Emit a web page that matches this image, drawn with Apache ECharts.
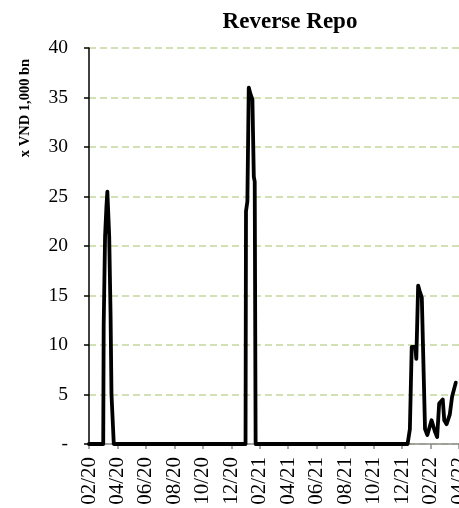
<!DOCTYPE html>
<html>
<head>
<meta charset="utf-8">
<script src="https://cdn.jsdelivr.net/npm/echarts@6/dist/echarts.min.js"></script>
<style>html,body{margin:0;padding:0;background:#fff;overflow:hidden;}#c{width:459px;height:508px;}</style>
</head>
<body>
<div id="c"></div>
<script>
const chartTitle = 'Reverse Repo';
const yAxisTitle = 'x VND 1,000 bn';
const yTicks = [0, 5, 10, 15, 20, 25, 30, 35, 40];
const startMonth = '2020-02';
const dates = [
  '2020-02-01','2020-03-01','2020-03-02','2020-03-05','2020-03-08','2020-03-10','2020-03-12','2020-03-14','2020-03-17','2020-03-19','2020-03-24',
  '2021-01-01','2021-01-02','2021-01-05','2021-01-08','2021-01-12','2021-01-16','2021-01-19','2021-01-21','2021-01-23',
  '2021-12-13','2021-12-18','2021-12-22','2021-12-30','2022-01-01','2022-01-05','2022-01-08','2022-01-13','2022-01-20','2022-01-25',
  '2022-02-03','2022-02-10','2022-02-14','2022-02-18','2022-02-25','2022-02-28','2022-03-05','2022-03-12','2022-03-17','2022-03-25'
];
const values = [
  0, 0, 12, 21, 24, 25.5, 25.5, 21, 13, 5, 0,
  0, 23.5, 24.5, 36, 35.3, 34.8, 27, 26.5, 0,
  0, 1.5, 9.8, 9.8, 8.6, 16, 15.5, 14.8, 1.5, 0.9,
  2.4, 1.2, 0.7, 4.1, 4.5, 2.4, 2.0, 3.0, 4.8, 6.2
];

const [sy, sm] = startMonth.split('-').map(Number);
function monthIndex(d) {
  const [y, m, day] = d.split('-').map(Number);
  const dim = new Date(y, m, 0).getDate();
  return (y - sy) * 12 + (m - sm) + (day - 1) / dim;
}
function monthLabel(v) {
  const total = sm - 1 + Math.round(v);
  const y = sy + Math.floor(total / 12);
  const m = (total % 12) + 1;
  return String(m).padStart(2, '0') + '/' + String(y % 100).padStart(2, '0');
}
const seriesData = dates.map((d, i) => [monthIndex(d), values[i]]);
const font = 'Liberation Serif, Times New Roman, serif';

const chart = echarts.init(document.getElementById('c'), null, {renderer: 'canvas'});
chart.setOption({
  animation: false,
  backgroundColor: '#fff',
  title: {
    text: chartTitle, left: 285, top: 6, textAlign: 'center',
    textStyle: {fontFamily: font, fontWeight: 'bold', fontSize: 23, color: '#000'}
  },
  graphic: [{
    type: 'text', x: 25, y: 108, rotation: Math.PI / 2,
    style: {text: yAxisTitle, font: 'bold 14.5px ' + font, fill: '#000', align: 'center', verticalAlign: 'middle'}
  }],
  grid: {left: 89, right: 0, top: 48, bottom: 64, containLabel: false, outerBoundsMode: 'none'},
  xAxis: {
    type: 'value', min: 0, max: 26, interval: 2,
    axisLine: {show: true, onZero: false, lineStyle: {color: '#8c8c8c', width: 1.5}},
    axisTick: {show: true, length: 5, lineStyle: {color: '#8c8c8c', width: 1.5}},
    splitLine: {show: false},
    axisLabel: {
      rotate: 90, margin: 13, fontFamily: font, fontSize: 21, color: '#000',
      formatter: monthLabel, showMaxLabel: true, showMinLabel: true, hideOverlap: false
    }
  },
  yAxis: {
    type: 'value', min: yTicks[0], max: yTicks[yTicks.length - 1], interval: 5,
    axisLine: {show: true, lineStyle: {color: '#000', width: 1.5}},
    axisTick: {show: true, length: 5, lineStyle: {color: '#000', width: 1.5}},
    splitLine: {show: true, lineStyle: {color: '#c4d79b', type: [7, 4], width: 1.5}},
    axisLabel: {
      margin: 21, fontFamily: font, fontSize: 19.5, color: '#000',
      formatter: v => v === 0 ? '-' : String(v)
    }
  },
  series: [{
    type: 'line', data: seriesData, showSymbol: false, symbol: 'none',
    lineStyle: {color: '#000', width: 3.8, join: 'round', cap: 'round'},
    clip: false
  }]
});
</script>
</body>
</html>
